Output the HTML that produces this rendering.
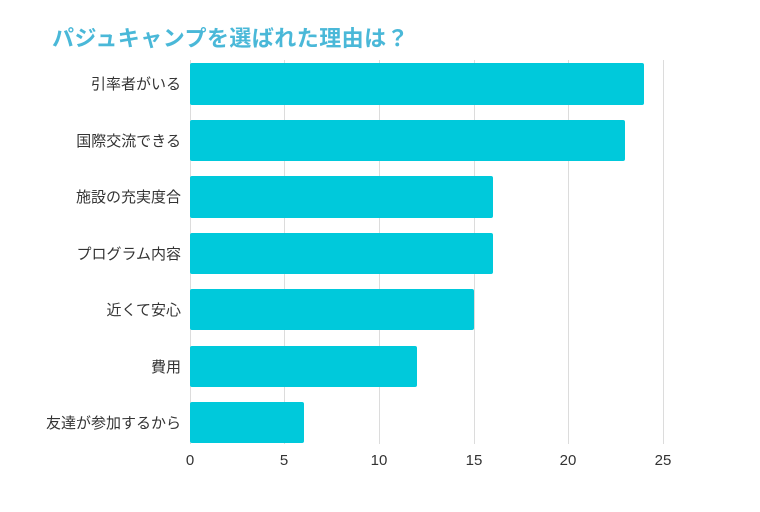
<!DOCTYPE html>
<html><head><meta charset="utf-8"><style>
body{margin:0;background:#fff;}
svg text{font-family:"Liberation Sans","Noto Sans CJK JP",sans-serif;}
</style></head><body>
<svg width="760" height="507" xmlns="http://www.w3.org/2000/svg">
<rect width="760" height="507" fill="#fff"/>
<text x="52" y="46" font-size="22" font-weight="bold" fill="#4ab8d8" letter-spacing="0.45">パジュキャンプを選ばれた理由は？</text>
<g stroke="#dcdcdc" stroke-width="1">
<line x1="284.5" y1="60" x2="284.5" y2="444"/>
<line x1="379.5" y1="60" x2="379.5" y2="444"/>
<line x1="474.5" y1="60" x2="474.5" y2="444"/>
<line x1="568.5" y1="60" x2="568.5" y2="444"/>
<line x1="663.5" y1="60" x2="663.5" y2="444"/>
<line x1="190.5" y1="60" x2="190.5" y2="444"/>
</g>
<g fill="#00c9db">
<rect x="190" y="63" width="454" height="42" rx="2"/>
<rect x="190" y="120" width="435" height="41" rx="2"/>
<rect x="190" y="176" width="303" height="42" rx="2"/>
<rect x="190" y="233" width="303" height="41" rx="2"/>
<rect x="190" y="289" width="284" height="41" rx="2"/>
<rect x="190" y="346" width="227" height="41" rx="2"/>
<rect x="190" y="402" width="114" height="41" rx="2"/>
</g>
<g font-size="15" fill="#333" text-anchor="end">
<text x="181" y="89">引率者がいる</text>
<text x="181" y="146">国際交流できる</text>
<text x="181" y="202">施設の充実度合</text>
<text x="181" y="259">プログラム内容</text>
<text x="181" y="315">近くて安心</text>
<text x="181" y="372">費用</text>
<text x="181" y="428">友達が参加するから</text>
</g>
<g font-size="15" fill="#333" text-anchor="middle">
<text x="190" y="465">0</text>
<text x="284" y="465">5</text>
<text x="379" y="465">10</text>
<text x="474" y="465">15</text>
<text x="568" y="465">20</text>
<text x="663" y="465">25</text>
</g>
</svg>
</body></html>
